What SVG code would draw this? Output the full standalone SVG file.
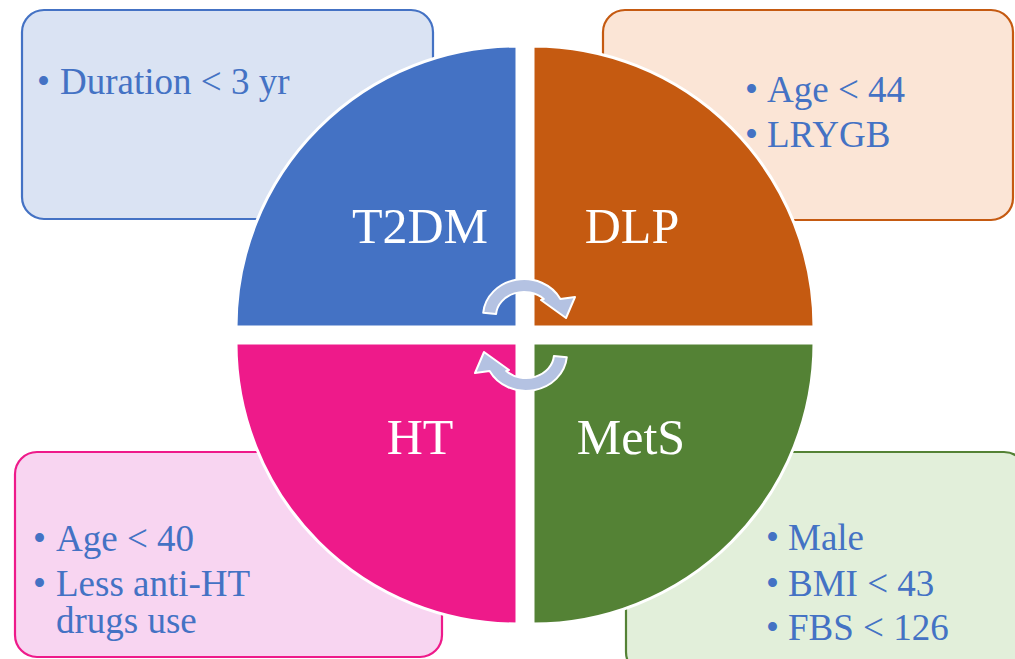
<svg xmlns="http://www.w3.org/2000/svg" width="1015" height="659" viewBox="0 0 1015 659">
  <style>
    .box { stroke-width: 2.2; }
    .quad { stroke: #FFFFFF; stroke-width: 3; }
    .title { font-family: "Liberation Serif", "Times New Roman", serif; font-size: 50px; fill: #FFFFFF; text-anchor: middle; }
    .item { font-family: "Liberation Serif", "Times New Roman", serif; font-size: 37px; fill: #4472C4; }
    .cycle { fill: #B4C2E2; stroke: #FFFFFF; stroke-width: 2; stroke-linejoin: round; }
  </style>
  <defs>
    <!-- curved arrow used twice in the centre -->
    <path id="curl" d="M483.2,312.8 A41,37 0 0 1 560.4,299 L575,297 L566,318 L541,300 L543.8,299 A28,24 0 0 0 496.1,313.9 Z"/>
  </defs>
  <rect width="1015" height="659" fill="#FFFFFF"/>

  <!-- detail boxes behind the wheel -->
  <g id="box-t2dm">
    <rect class="box" x="22" y="10" width="411" height="209" rx="22" fill="#DAE3F3" stroke="#4472C4"/>
    <text class="item" x="37" y="94">•</text>
    <text class="item" x="60" y="94">Duration &lt; 3 yr</text>
  </g>
  <g id="box-dlp">
    <rect class="box" x="603" y="10" width="410" height="210" rx="22" fill="#FBE5D6" stroke="#C55A11"/>
    <text class="item" x="745" y="102">•</text>
    <text class="item" x="767" y="102">Age &lt; 44</text>
    <text class="item" x="745" y="147">•</text>
    <text class="item" x="767" y="147">LRYGB</text>
  </g>
  <g id="box-ht">
    <rect class="box" x="15" y="452" width="427" height="205" rx="22" fill="#F8D5F1" stroke="#EE1A8A"/>
    <text class="item" x="33" y="551">•</text>
    <text class="item" x="56" y="551">Age &lt; 40</text>
    <text class="item" x="33" y="596">•</text>
    <text class="item" x="56" y="596">Less anti-HT</text>
    <text class="item" x="56" y="633">drugs use</text>
  </g>
  <g id="box-mets">
    <rect class="box" x="626" y="452" width="400" height="222" rx="22" fill="#E2EFDA" stroke="#548235"/>
    <text class="item" x="766" y="550">•</text>
    <text class="item" x="788" y="550">Male</text>
    <text class="item" x="766" y="596">•</text>
    <text class="item" x="788" y="596">BMI &lt; 43</text>
    <text class="item" x="766" y="640">•</text>
    <text class="item" x="788" y="640">FBS &lt; 126</text>
  </g>

  <!-- wheel quadrants -->
  <g id="q-t2dm">
    <path class="quad" d="M517,327 L236,327 A281,281 0 0 1 517,46 Z" fill="#4472C4"/>
    <text class="title" x="420" y="243">T2DM</text>
  </g>
  <g id="q-dlp">
    <path class="quad" d="M533,327 L533,46 A281,281 0 0 1 814,327 Z" fill="#C55A11"/>
    <text class="title" x="632" y="243">DLP</text>
  </g>
  <g id="q-ht">
    <path class="quad" d="M517,343 L517,624 A281,281 0 0 1 236,343 Z" fill="#EE1A8A"/>
    <text class="title" x="420" y="454">HT</text>
  </g>
  <g id="q-mets">
    <path class="quad" d="M533,343 L814,343 A281,281 0 0 1 533,624 Z" fill="#548235"/>
    <text class="title" x="631" y="454">MetS</text>
  </g>

  <!-- cycle arrows -->
  <g id="connectors">
    <use href="#curl" class="cycle"/>
    <use href="#curl" class="cycle" transform="rotate(180 525 335)"/>
  </g>
</svg>
